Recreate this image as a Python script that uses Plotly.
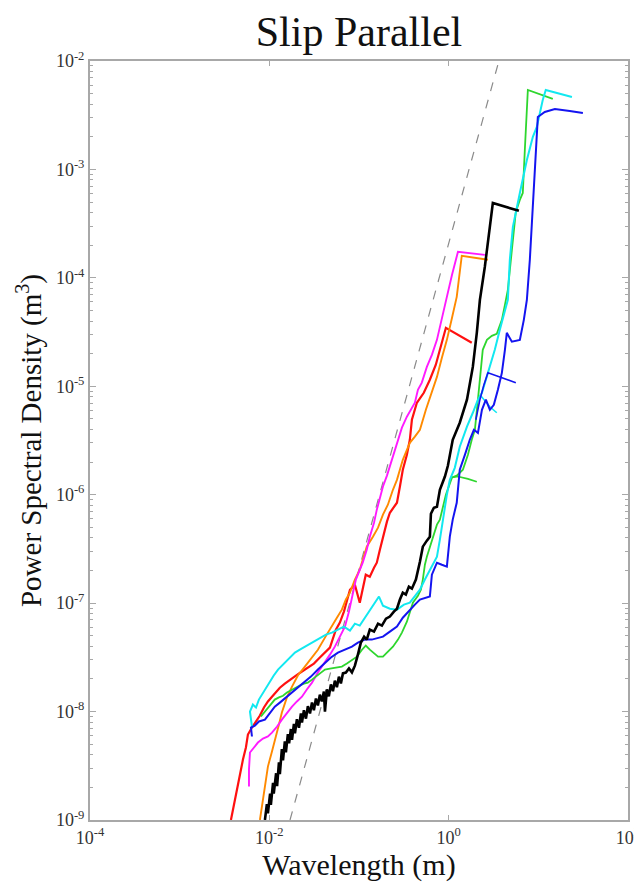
import plotly.graph_objects as go

# ---------------- data (wavelength in m, PSD in m^3) ----------------
red_wl = [3.73e-3, 4.03e-3, 4.36e-3, 4.70e-3, 5.08e-3, 5.48e-3, 5.77e-3, 6.40e-3, 7.10e-3, 7.85e-3,
          8.71e-3, 9.64e-3, 1.07e-2, 1.19e-2, 1.31e-2, 1.49e-2, 1.70e-2, 1.98e-2, 2.31e-2, 2.69e-2,
          3.14e-2, 3.66e-2, 4.28e-2, 4.74e-2, 5.52e-2, 6.12e-2, 6.79e-2, 7.93e-2, 9.0e-2, 0.102,
          0.119, 0.132, 0.147, 0.158, 0.171, 0.185, 0.205, 0.221, 0.245, 0.265,
          0.286, 0.308, 0.342, 0.369, 0.389, 0.442, 0.528, 0.617, 0.719, 0.798, 0.931, 1.81]
red_psd = [1.0e-9, 1.39e-9, 1.91e-9, 2.80e-9, 3.61e-9, 4.66e-9, 6.14e-9, 7.13e-9, 8.10e-9, 9.19e-9,
           1.09e-8, 1.24e-8, 1.37e-8, 1.53e-8, 1.66e-8, 1.81e-8, 1.97e-8, 2.15e-8, 2.34e-8, 2.55e-8,
           2.77e-8, 3.15e-8, 3.57e-8, 3.89e-8, 5.70e-8, 6.61e-8, 8.36e-8, 1.33e-7, 1.48e-7, 1.01e-7,
           1.83e-7, 1.75e-7, 2.12e-7, 2.36e-7, 3.11e-7, 4.10e-7, 5.64e-7, 6.82e-7, 7.75e-7, 8.43e-7,
           1.19e-6, 1.70e-6, 2.34e-6, 3.21e-6, 4.91e-6, 7.05e-6, 8.71e-6, 1.15e-5, 1.58e-5, 2.17e-5,
           3.46e-5, 2.52e-5]

magenta_wl = [5.93e-3, 5.93e-3, 6.08e-3, 6.73e-3, 7.46e-3, 8.49e-3, 9.64e-3, 1.07e-2, 1.22e-2, 1.38e-2,
              1.57e-2, 1.79e-2, 2.03e-2, 2.31e-2, 2.62e-2, 2.99e-2, 3.48e-2, 4.17e-2, 4.74e-2, 5.38e-2,
              6.12e-2, 6.97e-2, 7.73e-2, 8.34e-2, 9.23e-2, 0.110, 0.122, 0.132, 0.147, 0.158,
              0.185, 0.205, 0.221, 0.265, 0.301, 0.342, 0.420, 0.454, 0.502, 0.571,
              0.650, 0.740, 0.840, 0.955, 1.09, 1.27, 2.53]
magenta_psd = [2.04e-9, 2.92e-9, 4.19e-9, 4.66e-9, 5.18e-9, 5.64e-9, 5.89e-9, 6.40e-9, 7.28e-9, 8.43e-9,
               9.79e-9, 1.11e-8, 1.24e-8, 1.37e-8, 1.60e-8, 1.85e-8, 2.29e-8, 2.83e-8, 3.35e-8, 3.97e-8,
               4.91e-8, 6.07e-8, 8.36e-8, 1.12e-7, 1.65e-7, 2.36e-7, 3.11e-7, 4.10e-7, 5.52e-7, 7.28e-7,
               1.19e-6, 1.50e-6, 1.85e-6, 3.01e-6, 4.15e-6, 5.24e-6, 7.05e-6, 9.29e-6, 1.08e-5, 1.51e-5,
               1.95e-5, 2.68e-5, 4.10e-5, 6.68e-5, 1.07e-4, 1.74e-4, 1.63e-4]

orange_wl = [7.85e-3, 8.49e-3, 9.17e-3, 9.64e-3, 1.07e-2, 1.15e-2, 1.28e-2, 1.38e-2, 1.57e-2, 1.79e-2,
             2.08e-2, 2.49e-2, 2.99e-2, 3.48e-2, 4.17e-2, 4.99e-2, 5.67e-2, 6.44e-2, 7.14e-2, 7.93e-2,
             9.0e-2, 0.102, 0.114, 0.122, 0.143, 0.163, 0.185, 0.210, 0.239, 0.265,
             0.308, 0.369, 0.420, 0.478, 0.557, 0.634, 0.740, 0.840, 0.955, 1.09,
             1.23, 1.40, 2.74]
orange_psd = [1.0e-9, 1.55e-9, 2.36e-9, 3.11e-9, 4.28e-9, 5.52e-9, 7.59e-9, 9.79e-9, 1.35e-8, 1.70e-8,
              2.15e-8, 2.60e-8, 3.15e-8, 3.72e-8, 4.81e-8, 6.07e-8, 7.34e-8, 8.71e-8, 1.08e-7, 1.25e-7,
              1.65e-7, 2.04e-7, 2.74e-7, 3.32e-7, 4.10e-7, 4.97e-7, 6.55e-7, 8.09e-7, 1.11e-6, 1.37e-6,
              2.10e-6, 3.01e-6, 3.43e-6, 3.97e-6, 6.07e-6, 8.36e-6, 1.22e-5, 1.83e-5, 2.68e-5, 4.28e-5,
              6.68e-5, 1.60e-4, 1.47e-4]

black_wl = [8.93e-3, 9.39e-3, 9.64e-3, 1.02e-2, 1.04e-2, 1.10e-2, 1.12e-2, 1.19e-2, 1.22e-2, 1.28e-2,
            1.31e-2, 1.38e-2, 1.42e-2, 1.49e-2, 1.53e-2, 1.61e-2, 1.66e-2, 1.74e-2, 1.79e-2, 1.88e-2,
            1.93e-2, 2.03e-2, 2.14e-2, 2.25e-2, 2.31e-2, 2.43e-2, 2.56e-2, 2.69e-2, 2.84e-2, 2.99e-2,
            3.14e-2, 3.31e-2, 3.48e-2, 3.66e-2, 3.85e-2, 4.06e-2, 4.17e-2, 4.39e-2, 4.61e-2, 4.86e-2,
            5.12e-2, 5.38e-2, 5.67e-2, 5.97e-2, 6.28e-2, 6.62e-2, 7.14e-2, 7.73e-2, 8.34e-2, 9.0e-2,
            9.72e-2, 0.105, 0.114, 0.122, 0.132, 0.147, 0.163, 0.180, 0.200, 0.221,
            0.245, 0.265, 0.286, 0.308, 0.333, 0.360, 0.389, 0.431, 0.478, 0.515,
            0.571, 0.617, 0.634, 0.684, 0.740, 0.798, 0.908, 0.980, 1.11, 1.33,
            1.60, 1.86, 2.06, 2.23, 2.53, 2.74, 2.88, 3.11, 6.07]
black_psd = [1.0e-9, 1.40e-9, 1.15e-9, 1.75e-9, 1.38e-9, 2.2e-9, 1.75e-9, 2.7e-9, 2.05e-9, 3.4e-9,
             2.65e-9, 4.5e-9, 3.55e-9, 5.3e-9, 4.2e-9, 6.2e-9, 5.1e-9, 6.9e-9, 5.5e-9, 7.7e-9,
             6.3e-9, 8.5e-9, 7.1e-9, 9.6e-9, 7.9e-9, 1.03e-8, 8.6e-9, 1.12e-8, 9.6e-9, 1.21e-8,
             1.03e-8, 1.32e-8, 1.14e-8, 1.43e-8, 1.24e-8, 1.53e-8, 1.0e-8, 1.60e-8, 1.38e-8, 1.78e-8,
             1.54e-8, 1.93e-8, 1.68e-8, 2.10e-8, 1.82e-8, 2.25e-8, 2.29e-8, 2.50e-8, 2.30e-8, 2.65e-8,
             3.35e-8, 4.33e-8, 4.91e-8, 4.61e-8, 5.70e-8, 5.46e-8, 6.47e-8, 6.21e-8, 7.19e-8, 7.52e-8,
             8.36e-8, 8.89e-8, 1.08e-7, 1.25e-7, 1.20e-7, 1.42e-7, 1.36e-7, 1.65e-7, 2.41e-7, 3.32e-7,
             3.77e-7, 4.10e-7, 6.68e-7, 7.59e-7, 7.75e-7, 1.11e-6, 1.47e-6, 1.85e-6, 3.21e-6, 4.61e-6,
             7.52e-6, 1.51e-5, 3.11e-5, 6.27e-5, 1.26e-4, 2.15e-4, 2.95e-4, 4.91e-4, 4.15e-4]

green_wl = [8.05e-3, 8.71e-3, 9.64e-3, 1.07e-2, 1.15e-2, 1.28e-2, 1.42e-2, 1.57e-2, 1.79e-2, 1.98e-2,
            2.19e-2, 2.43e-2, 2.69e-2, 2.99e-2, 3.31e-2, 3.66e-2, 4.17e-2, 4.74e-2, 5.52e-2, 6.44e-2,
            7.33e-2, 8.34e-2, 9.48e-2, 0.108, 0.119, 0.132, 0.147, 0.163, 0.185, 0.210,
            0.239, 0.272, 0.301, 0.342, 0.369, 0.399, 0.454, 0.490, 0.515, 0.543,
            0.571, 0.617, 0.667, 0.740, 0.798, 0.931, 1.09, 1.23, 1.44, 1.64,
            1.81, 1.96, 2.12, 2.29, 2.40, 2.67, 3.03, 3.44, 3.92, 4.24,
            4.57, 5.07, 5.61, 6.22, 6.71, 7.07, 7.45, 7.64, 14.5]
green_psd = [9.0e-9, 9.79e-9, 1.09e-8, 1.19e-8, 1.29e-8, 1.35e-8, 1.40e-8, 1.50e-8, 1.60e-8, 1.66e-8,
             1.74e-8, 1.81e-8, 1.85e-8, 1.97e-8, 2.10e-8, 2.24e-8, 2.44e-8, 2.49e-8, 2.55e-8, 2.60e-8,
             2.77e-8, 3.01e-8, 3.21e-8, 3.72e-8, 4.06e-8, 3.72e-8, 3.43e-8, 3.21e-8, 3.21e-8, 3.57e-8,
             3.97e-8, 4.61e-8, 5.35e-8, 6.75e-8, 8.17e-8, 1.01e-7, 1.17e-7, 1.33e-7, 1.65e-7, 2.26e-7,
             2.68e-7, 3.25e-7, 4.10e-7, 5.30e-7, 5.89e-7, 1.0e-6, 1.44e-6, 1.50e-6, 1.70e-6, 2.34e-6,
             3.21e-6, 3.97e-6, 7.52e-6, 1.42e-5, 2.17e-5, 2.68e-5, 2.92e-5, 3.05e-5, 4.10e-5, 5.64e-5,
             7.75e-5, 1.81e-4, 4.06e-4, 5.24e-4, 6.07e-4, 1.51e-3, 3.53e-3, 5.41e-3, 4.47e-3]
green_stub_wl = [1.09, 1.27, 1.64, 2.06]
green_stub_psd = [1.44e-6, 1.47e-6, 1.40e-6, 1.32e-6]

cyan_wl = [6.40e-3, 6.08e-3, 6.56e-3, 7.10e-3, 7.65e-3, 8.28e-3, 8.93e-3, 9.64e-3, 1.04e-2, 1.12e-2,
           1.25e-2, 1.38e-2, 1.53e-2, 1.74e-2, 1.93e-2, 2.19e-2, 2.49e-2, 2.84e-2, 3.22e-2, 3.66e-2,
           4.28e-2, 4.99e-2, 5.82e-2, 6.79e-2, 7.93e-2, 9.0e-2, 0.102, 0.116, 0.132, 0.150,
           0.167, 0.185, 0.221, 0.265, 0.317, 0.369, 0.420, 0.478, 0.543, 0.617,
           0.740, 0.798, 0.861, 0.955, 1.03, 1.17, 1.33, 1.60, 1.86, 2.12,
           2.35, 2.60, 2.88, 3.27, 3.72, 4.24, 4.57, 4.81, 5.20, 6.22,
           7.45, 8.69, 9.62, 11.2, 12.1, 23.7]
cyan_psd = [7.28e-9, 1.0e-8, 1.16e-8, 1.09e-8, 1.29e-8, 1.44e-8, 1.60e-8, 1.74e-8, 1.93e-8, 2.15e-8,
            2.44e-8, 2.65e-8, 2.89e-8, 3.21e-8, 3.50e-8, 3.72e-8, 3.97e-8, 4.24e-8, 4.51e-8, 4.81e-8,
            5.13e-8, 5.35e-8, 5.70e-8, 6.07e-8, 5.58e-8, 6.47e-8, 6.21e-8, 7.34e-8, 8.71e-8, 1.01e-7,
            1.15e-7, 9.48e-8, 8.89e-8, 8.71e-8, 9.68e-8, 1.01e-7, 1.15e-7, 1.33e-7, 1.65e-7, 2.04e-7,
            2.68e-7, 3.85e-7, 5.89e-7, 1.0e-6, 1.37e-6, 1.77e-6, 2.77e-6, 4.24e-6, 5.70e-6, 7.52e-6,
            8.71e-6, 1.15e-5, 1.51e-5, 2.17e-5, 3.32e-5, 4.86e-5, 6.27e-5, 1.47e-4, 2.95e-4, 6.07e-4,
            1.22e-3, 2.0e-3, 2.47e-3, 4.37e-3, 5.41e-3, 4.66e-3]
cyan_stub_wl = [2.23, 2.47, 2.88, 3.44]
cyan_stub_psd = [8.36e-6, 7.52e-6, 6.47e-6, 5.70e-6]

blue_wl = [6.40e-3, 6.24e-3, 6.90e-3, 7.65e-3, 8.93e-3, 1.02e-2, 1.15e-2, 1.31e-2, 1.53e-2, 1.79e-2,
           2.08e-2, 2.43e-2, 2.91e-2, 3.48e-2, 4.17e-2, 4.86e-2, 5.82e-2, 6.97e-2, 8.34e-2, 9.72e-2,
           0.116, 0.139, 0.163, 0.185, 0.221, 0.265, 0.308, 0.369, 0.420, 0.478,
           0.557, 0.617, 0.650, 0.684, 0.740, 0.840, 0.955, 1.03, 1.11, 1.23,
           1.33, 1.52, 1.72, 1.91, 2.12, 2.35, 2.60, 2.88, 3.19, 3.54,
           3.92, 4.24, 4.45, 5.07, 6.22, 6.89, 7.45, 8.04, 8.69, 9.38,
           9.87, 11.8, 15.3, 22.4, 31.4]
blue_psd = [5.89e-9, 7.13e-9, 7.43e-9, 8.10e-9, 8.43e-9, 9.79e-9, 1.11e-8, 1.21e-8, 1.35e-8, 1.50e-8,
            1.66e-8, 1.85e-8, 2.10e-8, 2.44e-8, 2.83e-8, 3.15e-8, 3.50e-8, 3.72e-8, 3.97e-8, 4.33e-8,
            4.61e-8, 4.61e-8, 4.81e-8, 4.91e-8, 5.46e-8, 6.07e-8, 7.34e-8, 8.71e-8, 9.68e-8, 1.08e-7,
            1.12e-7, 1.15e-7, 1.83e-7, 2.04e-7, 2.36e-7, 2.26e-7, 2.17e-7, 4.10e-7, 5.89e-7, 8.43e-7,
            1.70e-6, 2.34e-6, 3.21e-6, 3.97e-6, 3.72e-6, 6.07e-6, 7.52e-6, 6.07e-6, 6.75e-6, 9.29e-6,
            1.33e-5, 2.17e-5, 3.11e-5, 2.58e-5, 2.68e-5, 4.10e-5, 6.27e-5, 1.47e-4, 4.23e-4, 1.22e-3,
            3.05e-3, 3.39e-3, 3.61e-3, 3.46e-3, 3.32e-3]
blue_stub_wl = [2.01, 2.23, 2.47, 2.74, 3.72, 5.61]
blue_stub_psd = [4.91e-6, 7.52e-6, 1.03e-5, 1.33e-5, 1.22e-5, 1.08e-5]

# reference power-law (slope 3) dashed line
ref_wl = [1.70e-2, 3.63]
ref_psd = [1.0e-9, 1.0e-2]

x_tick_vals = [1e-4, 1e-2, 1e0, 1e2]
x_tick_text = ["10<sup>-4</sup>", "10<sup>-2</sup>", "10<sup>0</sup>", "10<sup>2</sup>"]
y_exponents = [-9, -8, -7, -6, -5, -4, -3, -2]
y_tick_vals = [10.0 ** e for e in y_exponents]
y_tick_text = ["10<sup>%d</sup>" % e for e in y_exponents]
y_minor_vals = [m * 10.0 ** e for e in y_exponents[:-1] for m in range(2, 10)]

# ---------------- figure ----------------
FONT = "Liberation Serif, Times New Roman, serif"
fig = go.Figure()

def add(xs, ys, color, width=1.8, dash=None):
    fig.add_trace(go.Scatter(x=xs, y=ys, mode="lines",
                             line=dict(color=color, width=width, dash=dash),
                             showlegend=False, hoverinfo="skip"))

add(ref_wl, ref_psd, "#8a8a8a", 1.2, "dash")
add(red_wl, red_psd, "#ff1010", 2.2)
add(orange_wl, orange_psd, "#ff8a00", 1.9)
add(magenta_wl, magenta_psd, "#ff1aff", 1.9)
add(green_wl, green_psd, "#2ed62e", 1.8)
add(green_stub_wl, green_stub_psd, "#2ed62e", 1.6)
add(cyan_wl, cyan_psd, "#12e8f0", 2.0)
add(cyan_stub_wl, cyan_stub_psd, "#12e8f0", 1.6)
add(blue_wl, blue_psd, "#1414f0", 2.0)
add(blue_stub_wl, blue_stub_psd, "#1414f0", 1.6)
add(black_wl, black_psd, "#000000", 2.6)

axis_common = dict(
    showline=True, linecolor="#a8a8a8", linewidth=2,
    ticks="inside", tickcolor="#a8a8a8", tickwidth=1,
    showgrid=False, zeroline=False, automargin=False,
    tickfont=dict(family=FONT, size=18, color="#333333"),
)

fig.update_xaxes(type="log", range=[-4, 2], tickmode="array",
                 tickvals=x_tick_vals, ticktext=x_tick_text, ticklen=5,
                 mirror="ticks", ticklabeloverflow="allow",
                 title=dict(text="Wavelength (m)", font=dict(family=FONT, size=30, color="#111111"),
                            standoff=4),
                 **axis_common)
fig.update_yaxes(type="log", range=[-9, -2], tickmode="array",
                 tickvals=y_tick_vals, ticktext=y_tick_text, ticklen=6,
                 mirror="allticks",
                 minor=dict(tickmode="array", tickvals=y_minor_vals, ticks="inside",
                            ticklen=3, tickcolor="#a8a8a8", tickwidth=1, showgrid=False),
                 title=dict(text="Power Spectral Density (m<sup>3</sup>)",
                            font=dict(family=FONT, size=29, color="#111111"), standoff=6),
                 **axis_common)

# page body adds an 8px offset, so the figure is sized to fit the 642x890 window
fig.update_layout(
    width=634, height=882,
    margin=dict(l=82, r=14, t=53, b=70),
    paper_bgcolor="white", plot_bgcolor="white",
    title=dict(text="Slip Parallel", x=0.5, xref="paper", xanchor="center",
               y=1 - 23 / 882, yref="container", yanchor="middle",
               font=dict(family=FONT, size=42, color="#111111")),
)

fig.write_html("out.html")
